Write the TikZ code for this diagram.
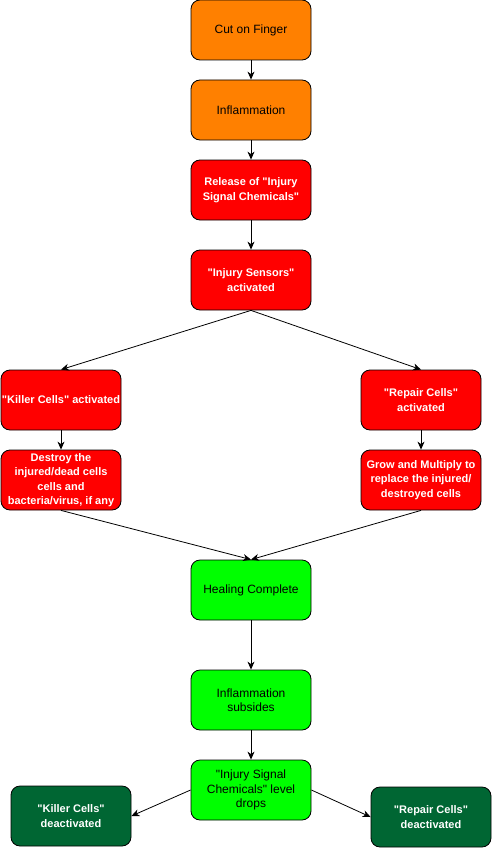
\documentclass[tikz,border=0pt]{standalone}
\usepackage{fontspec}
\setmainfont{Liberation Sans}[Ligatures=TeXOff]
\usepackage{tikz}
\usetikzlibrary{positioning, arrows.meta}
\definecolor{startcolor}{RGB}{255,128,0}
\definecolor{alarmcolor}{RGB}{255,0,0}
\definecolor{healcolor}{RGB}{0,255,0}
\definecolor{offcolor}{RGB}{0,102,51}

\tikzset{
  box/.style={draw, rounded corners=9pt, line width=0.8pt, minimum width=120pt, minimum height=60pt,
    align=center, inner sep=0pt, font=\fontsize{12}{14.5}\selectfont},
  startbox/.style={box, fill=startcolor},
  alarmbox/.style={box, fill=alarmcolor, text=white, font=\fontsize{11}{14.5}\selectfont\bfseries},
  healbox/.style={box, fill=healcolor},
  offbox/.style={box, fill=offcolor, text=white, font=\fontsize{11}{14.5}\selectfont\bfseries},
  flow/.style={-{Stealth[length=8pt, width=7pt, inset=2.5pt]}, line width=0.8pt}
}

\begin{document}
\begin{tikzpicture}[x=1pt, y=-1pt]
    \useasboundingbox (0,0) rectangle (491,848);

    % Start of the process
    \node[startbox] (cut) at (251,30) {Cut on Finger};
    \node[startbox] (inflam) at (251,110) {Inflammation};

    % Signals
    \node[alarmbox] (release) at (251,190) {Release of "Injury\\ Signal Chemicals"};
    \node[alarmbox] (sensors) at (251,280) {"Injury Sensors"\\ activated};

    % Left branch
    \node[alarmbox] (killer) at (61,400) {"Killer Cells" activated};
    \node[alarmbox] (destroy) at (61,480) {Destroy the\\ injured/dead cells\\ cells and\\ bacteria/virus, if any};

    % Right branch
    \node[alarmbox] (repair) at (421,400) {"Repair Cells"\\ activated};
    \node[alarmbox] (grow) at (421,480) {Grow and Multiply to\\ replace the injured/\\ destroyed cells};

    % Healing
    \node[healbox] (healed) at (251,590) {Healing Complete};
    \node[healbox] (subsides) at (251,700) {Inflammation\\ subsides};
    \node[healbox] (drops) at (251,790) {"Injury Signal\\ Chemicals" level\\ drops};

    % End
    \node[offbox] (killeroff) at (71,816) {"Killer Cells"\\ deactivated};
    \node[offbox] (repairoff) at (431,817) {"Repair Cells"\\ deactivated};

    % Arrows
    \draw[flow] (cut) -- (inflam);
    \draw[flow] (inflam) -- (release);
    \draw[flow] (release) -- (sensors);
    \draw[flow] (sensors.south) -- (killer.north);
    \draw[flow] (sensors.south) -- (repair.north);
    \draw[flow] (killer) -- (destroy);
    \draw[flow] (repair) -- (grow);
    \draw[flow] (destroy.south) -- (healed.north);
    \draw[flow] (grow.south) -- (healed.north);
    \draw[flow] (healed) -- (subsides);
    \draw[flow] (subsides) -- (drops);
    \draw[flow] (drops.west) -- (killeroff.east);
    \draw[flow] (drops.east) -- (repairoff.west);
\end{tikzpicture}
\end{document}
